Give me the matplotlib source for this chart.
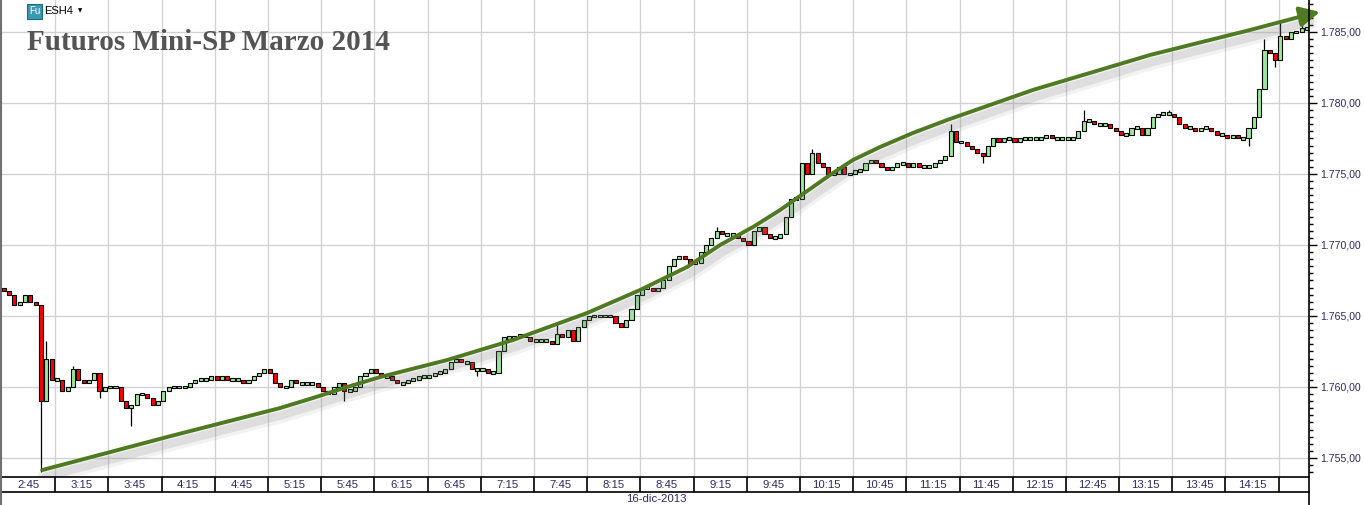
import matplotlib
matplotlib.use("Agg")
import matplotlib.pyplot as plt
import matplotlib.patheffects as pe
from matplotlib.lines import Line2D
from matplotlib.patches import Rectangle
from matplotlib.ticker import MultipleLocator, FuncFormatter
import numpy as np

# 3-minute bars, minutes after midnight (first bar at 2:31)
bar_start = 151
bar_step = 3
first_open = 1767.0
closes = [
    1766.75, 1766.5, 1765.75, 1766.0, 1766.5, 1766.0, 1765.75, 1759.0, 1762.0, 1760.5,
    1760.5, 1759.75, 1760.0, 1761.25, 1760.5, 1760.25, 1760.5, 1761.0, 1759.75, 1760.0,
    1760.0, 1760.0, 1759.0, 1758.5, 1758.75, 1759.5, 1759.5, 1759.25, 1758.75, 1759.0,
    1759.75, 1760.0, 1760.0, 1760.0, 1760.0, 1760.25, 1760.5, 1760.5, 1760.5, 1760.75,
    1760.5, 1760.75, 1760.5, 1760.5, 1760.5, 1760.25, 1760.5, 1760.75, 1761.0, 1761.25,
    1761.0, 1760.25, 1760.0, 1760.0, 1760.5, 1760.25, 1760.25, 1760.25, 1760.25, 1760.0,
    1759.75, 1759.5, 1760.0, 1760.25, 1759.75, 1759.75, 1760.0, 1760.75, 1761.0, 1761.25,
    1761.0, 1760.75, 1760.75, 1760.5, 1760.25, 1760.25, 1760.5, 1760.5, 1760.75, 1760.75,
    1760.75, 1761.0, 1761.0, 1761.25, 1761.75, 1762.0, 1761.75, 1761.75, 1761.25, 1761.25,
    1761.25, 1761.0, 1761.0, 1762.5, 1763.5, 1763.5, 1763.5, 1763.75, 1763.5, 1763.25,
    1763.25, 1763.25, 1763.25, 1763.0, 1763.75, 1763.5, 1764.0, 1763.25, 1764.25, 1764.75,
    1765.0, 1765.0, 1765.0, 1765.0, 1765.0, 1764.5, 1764.25, 1764.75, 1765.5, 1766.5,
    1767.0, 1767.0, 1766.75, 1767.0, 1767.5, 1768.5, 1769.0, 1769.25, 1769.0, 1768.75,
    1768.75, 1769.5, 1770.0, 1770.5, 1771.0, 1770.75, 1770.75, 1770.75, 1770.5, 1770.25,
    1770.0, 1771.0, 1771.25, 1770.75, 1770.5, 1770.5, 1770.75, 1772.0, 1773.25, 1773.25,
    1775.75, 1775.0, 1776.5, 1775.75, 1775.5, 1775.0, 1775.0, 1775.5, 1775.0, 1775.0,
    1775.25, 1775.25, 1775.75, 1776.0, 1775.75, 1775.5, 1775.25, 1775.5, 1775.75, 1775.75,
    1775.5, 1775.75, 1775.5, 1775.5, 1775.5, 1775.75, 1776.0, 1776.25, 1778.0, 1777.25,
    1777.25, 1777.0, 1776.75, 1776.5, 1776.25, 1777.0, 1777.5, 1777.25, 1777.5, 1777.5,
    1777.25, 1777.5, 1777.5, 1777.5, 1777.5, 1777.5, 1777.75, 1777.5, 1777.5, 1777.5,
    1777.5, 1777.5, 1778.0, 1778.75, 1778.75, 1778.5, 1778.5, 1778.5, 1778.25, 1778.0,
    1777.75, 1777.75, 1778.25, 1778.25, 1777.75, 1778.25, 1779.0, 1779.25, 1779.25, 1779.25,
    1779.0, 1778.5, 1778.25, 1778.25, 1778.0, 1778.25, 1778.25, 1778.0, 1777.75, 1777.75,
    1777.5, 1777.75, 1777.5, 1777.5, 1778.25, 1779.0, 1781.0, 1783.75, 1783.5, 1783.0,
    1784.75, 1784.5, 1785.0, 1785.0, 1785.25, 1785.25,
]
# wick extremes that stick out of the bodies (bar number -> price)
spike_highs = {8: 1763.25, 13: 1761.5, 104: 1764.5, 134: 1771.25, 152: 1776.75,
               178: 1778.5, 203: 1779.5, 219: 1779.5, 237: 1784.5, 240: 1785.75,
               244: 1785.75}
spike_lows = {7: 1754.0, 18: 1759.25, 24: 1757.25, 64: 1759.0, 89: 1760.75,
              184: 1775.75, 234: 1777.0, 239: 1782.5}

# hand drawn trend arrow (minutes, price)
trend_t = [172.7, 243.2, 306.9, 325.5, 344.7, 363.3, 401.1, 438.3, 480.0, 509.9,
           536.4, 555.0, 573.6, 588.8, 617.0, 630.0, 645.2, 663.8, 683.0, 731.5,
           797.5, 853.9, 886.0]
trend_p = [1754.15, 1756.48, 1758.52, 1759.23, 1760.0, 1760.70, 1761.90, 1763.31,
           1765.21, 1766.83, 1768.45, 1770.0, 1771.27, 1772.46, 1774.93, 1775.99,
           1776.90, 1777.89, 1778.80, 1780.92, 1783.38, 1785.14, 1786.20]
arrow_tip = (893.3, 1786.41)

time_labels = ["2:45", "3:15", "3:45", "4:15", "4:45", "5:15", "5:45", "6:15", "6:45",
               "7:15", "7:45", "8:15", "8:45", "9:15", "9:45", "10:15", "10:45", "11:15",
               "11:45", "12:15", "12:45", "13:15", "13:45", "14:15"]
date_label = "16-dic-2013"

W, H = 1365, 505
fig = plt.figure(figsize=(W / 100, H / 100), dpi=100)
fig.patch.set_facecolor("white")

xl, xr = 2 / W, 1309 / W
ax = fig.add_axes([xl, 28 / H, xr - xl, 477 / H])
ax.set_xlim(150, 887.1)
ax.set_ylim(1753.66, 1787.25)

label_color = "#2e2a5e"
grid_color = "#d2d2d2"

# grid
for m in range(180, 871, 30):
    ax.axvline(m, color=grid_color, lw=1, zorder=0)
for p in range(1755, 1786, 5):
    ax.axhline(p, color=grid_color, lw=1, zorder=0)

# candles
closes = np.array(closes)
opens = np.concatenate([[first_open], closes[:-1]])
t = bar_start + bar_step * np.arange(len(closes))
highs = np.maximum(opens, closes)
lows = np.minimum(opens, closes)
for k, v in spike_highs.items():
    highs[k] = v
for k, v in spike_lows.items():
    lows[k] = v

ax.vlines(t, lows, highs, color="black", lw=0.9, zorder=2)
body_w = 2.3
for ti, o, c in zip(t, opens, closes):
    lo, hi = min(o, c), max(o, c)
    if hi - lo < 0.2:
        mid = (hi + lo) / 2
        lo, hi = mid - 0.1, mid + 0.1
    fc = "#ff0000" if c < o else "#9be89b"
    ax.add_patch(Rectangle((ti - body_w / 2, lo), body_w, hi - lo, facecolor=fc,
                           edgecolor="black", lw=0.8, zorder=3))

# trend arrow with soft shadow
green = "#4f7a22"
shadow = [pe.SimpleLineShadow(offset=(2, -5), shadow_color="#888888", alpha=0.10, linewidth=11),
          pe.SimpleLineShadow(offset=(2, -5), shadow_color="#888888", alpha=0.18, linewidth=6),
          pe.Normal()]
ax.plot(trend_t, trend_p, color=green, lw=2.8, solid_capstyle="round",
        solid_joinstyle="round", path_effects=shadow, zorder=5, clip_on=False)
ax.annotate("", xy=arrow_tip, xytext=(trend_t[-1], trend_p[-1]),
            arrowprops=dict(arrowstyle="-|>,head_length=1.2,head_width=0.6",
                            color=green, lw=2.8, shrinkA=0, shrinkB=0),
            annotation_clip=False, zorder=6)

# right price axis
ax.yaxis.tick_right()
ax.yaxis.set_major_locator(MultipleLocator(5))
ax.yaxis.set_minor_locator(MultipleLocator(0.5))
ax.yaxis.set_major_formatter(FuncFormatter(
    lambda v, pos: f"{v:,.2f}".replace(",", "X").replace(".", ",").replace("X", ".")))
ax.tick_params(axis="y", which="major", length=6, width=1, color="black",
               labelsize=7.6, labelcolor=label_color, pad=2)
ax.tick_params(axis="y", which="minor", length=3, width=1, color="black")
ax.set_xticks([])
for s in ["top", "left", "bottom", "right"]:
    ax.spines[s].set_visible(False)
for lab in ax.get_yticklabels():
    lab.set_fontfamily("Liberation Sans")

# time band under the chart
axb = fig.add_axes([xl, 13 / H, xr - xl, 15 / H])
axb.set_xlim(150, 887.1)
axb.set_ylim(0, 1)
axb.set_xticks([])
axb.set_yticks([])
for s in ["left", "right"]:
    axb.spines[s].set_visible(False)
for s in ["top", "bottom"]:
    axb.spines[s].set_color("black")
    axb.spines[s].set_linewidth(1.2)
for m in range(180, 871, 30):
    axb.axvline(m, color="black", lw=1.2)
for k, lab in enumerate(time_labels):
    axb.text(165 + 30 * k, 0.45, lab, ha="center", va="center", fontsize=8.2,
             color=label_color, family="Liberation Sans")
fig.text(656 / W, 6 / H, date_label, ha="center", va="center", fontsize=8.2,
         color=label_color, family="Liberation Sans")

# frame lines
fig.add_artist(Line2D([1309 / W, 1309 / W], [0, 1], transform=fig.transFigure,
                      color="black", lw=1.2))
fig.add_artist(Line2D([0.8 / W, 0.8 / W], [0, 1], transform=fig.transFigure,
                      color="#707070", lw=1.5))

# header: symbol badge and title
fig.patches.append(Rectangle((27 / W, 1 - 19 / H), 15 / W, 15 / H, transform=fig.transFigure,
                             facecolor="#3a9ab0", edgecolor="#1d6b80", lw=0.8))
fig.text(34.5 / W, 1 - 11.5 / H, "Fu", ha="center", va="center", fontsize=7,
         color="white", family="Liberation Sans")
fig.text(44 / W, 1 - 11 / H, "ESH4", ha="left", va="center", fontsize=8,
         color="black", family="Liberation Sans")
fig.text(80 / W, 1 - 11 / H, "\u25BC", ha="center", va="center", fontsize=4,
         color="black", family="DejaVu Sans")
fig.text(27 / W, 1 - 43 / H, "Futuros Mini-SP Marzo 2014", ha="left", va="center",
         fontsize=21, fontweight="bold", color="#545454", family="Liberation Serif")

fig.savefig("out.png", dpi=100, facecolor="white")
